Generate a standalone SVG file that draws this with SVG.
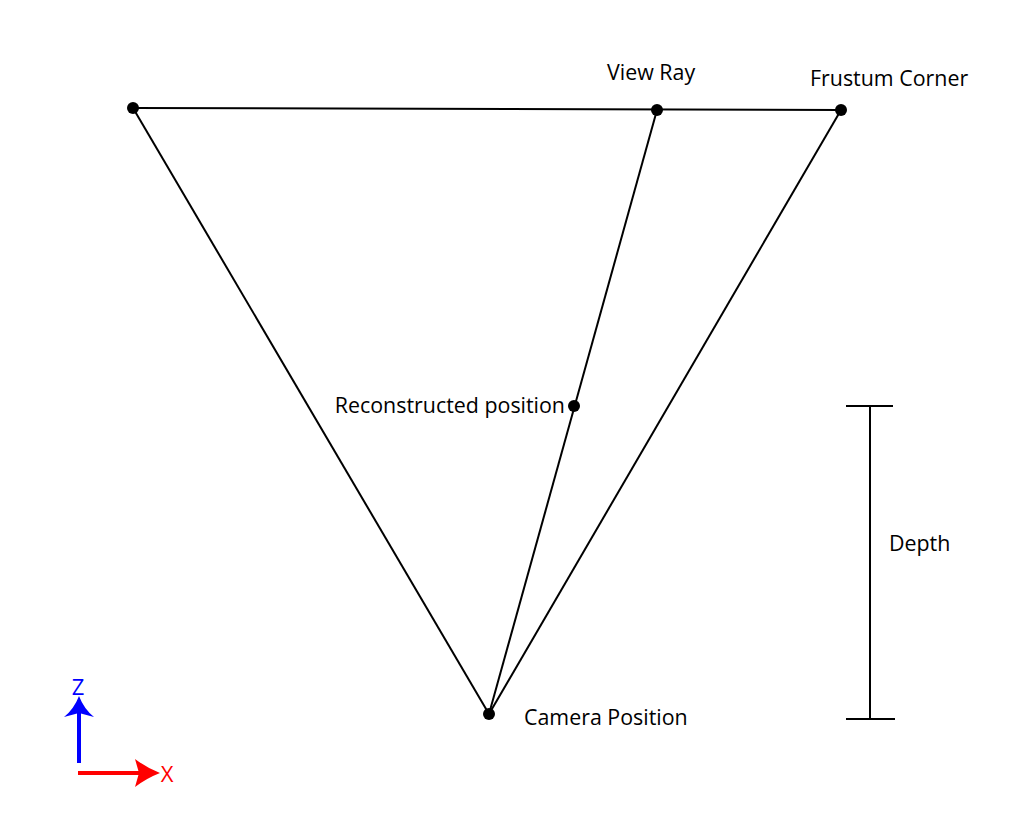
<svg xmlns="http://www.w3.org/2000/svg" width="1024" height="840" viewBox="0 0 1024 840">
<style>
.ln{stroke:#000;stroke-width:2;fill:none}
.dot{fill:#000}
.lbl{font-family:"Open Sans","Liberation Sans",sans-serif;font-size:21.4px;fill:#000}
.ax{font-family:"Open Sans","Liberation Sans",sans-serif;font-size:22px}
</style>
<rect width="1024" height="840" fill="#fff"/>
<g id="connectors">
<line class="ln" x1="133" y1="108" x2="841" y2="110"/>
<line class="ln" x1="133" y1="108" x2="489" y2="714"/>
<line class="ln" x1="841" y1="110" x2="489" y2="714"/>
<line class="ln" x1="657" y1="110" x2="489" y2="714"/>
</g>
<g id="node-left"><circle class="dot" cx="133" cy="108" r="6"/></g>
<g id="node-viewray"><circle class="dot" cx="657" cy="110" r="6"/><text class="lbl" x="607" y="80">View Ray</text></g>
<g id="node-frustum"><circle class="dot" cx="841" cy="110" r="6"/><text class="lbl" x="810" y="86">Frustum Corner</text></g>
<g id="node-recon"><circle class="dot" cx="574" cy="406" r="6"/><text class="lbl" x="565" y="413" text-anchor="end">Reconstructed position</text></g>
<g id="node-camera"><circle class="dot" cx="489" cy="714" r="6"/><text class="lbl" x="524" y="725">Camera Position</text></g>
<g id="depth">
<line class="ln" x1="870" y1="406" x2="870" y2="718"/>
<line class="ln" x1="846" y1="406" x2="893" y2="406"/>
<line class="ln" x1="846" y1="719" x2="895" y2="719"/>
<text class="lbl" x="889" y="551">Depth</text>
</g>
<g id="axes">
<line x1="79" y1="763" x2="79" y2="712" stroke="#0000ff" stroke-width="4"/>
<path d="M79 696 Q84 709 94 717 L79 713 L64 717 Q74 709 79 696Z" fill="#0000ff"/>
<text class="ax" x="78" y="695" text-anchor="middle" fill="#0000ff">Z</text>
<line x1="78" y1="773" x2="142" y2="773" stroke="#ff0000" stroke-width="4"/>
<path d="M160 773 Q147 778 135 787 L139 773 L135 759 Q147 768 160 773Z" fill="#ff0000"/>
<text class="ax" x="167" y="782" text-anchor="middle" fill="#ff0000">X</text>
</g>
</svg>
